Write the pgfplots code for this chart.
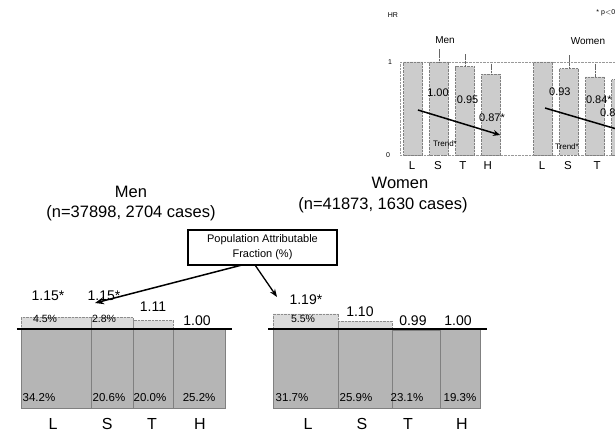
\documentclass[border=0pt]{standalone}
\usepackage{pgfplots}
\pgfplotsset{compat=1.18}
\usepackage{fontspec}
\setmainfont{Liberation Sans}
\usetikzlibrary{arrows.meta}
\newcommand{\fs}[1]{\fontsize{#1}{#1}\selectfont}
\definecolor{barc}{gray}{0.71}
\definecolor{exc}{gray}{0.86}
\definecolor{insc}{gray}{0.80}
\begin{document}
\begin{tikzpicture}[x=1pt,y=1pt]
\useasboundingbox (0pt,0pt) rectangle (615pt,-433pt);

% ---------- Men main ----------
\begin{axis}[at={(21pt,-408pt)}, anchor=south west, scale only axis, width=204pt, height=79pt,
  xmin=0, xmax=100, ymin=0, ymax=1, hide axis, clip=false]
\addplot[ybar interval, fill=exc, draw=black!45, densely dotted] coordinates {(0,1.15)(34.2,1.15)(54.8,1.11)(74.8,1.00)(100,1.00)};
\addplot[ybar interval, fill=barc, draw=black!50] coordinates {(0,1)(34.2,1)(54.8,1)(74.8,1)(100,1)};
\addplot[black, line width=1.6pt] coordinates {(-2,1)(103.4,1)};
\node[font=\fs{14}] at (axis cs:13.2,1.42) {1.15*};
\node[font=\fs{14}] at (axis cs:40.7,1.42) {1.15*};
\node[font=\fs{14}] at (axis cs:64.7,1.28) {1.11};
\node[font=\fs{14}] at (axis cs:86.3,1.11) {1.00};
\node[font=\fs{10.5}] at (axis cs:11.8,1.13) {4.5\%};
\node[font=\fs{10.5}] at (axis cs:40.7,1.13) {2.8\%};
\node[font=\fs{11.5}] at (axis cs:8.8,0.127) {34.2\%};
\node[font=\fs{11.5}] at (axis cs:43.1,0.127) {20.6\%};
\node[font=\fs{11.5}] at (axis cs:63.2,0.127) {20.0\%};
\node[font=\fs{11.5}] at (axis cs:87.3,0.127) {25.2\%};
\node[font=\fs{16}, anchor=base, yshift=-21.5pt, inner sep=0pt] at (axis cs:15.7,0) {L};
\node[font=\fs{16}, anchor=base, yshift=-21.5pt, inner sep=0pt] at (axis cs:42.2,0) {S};
\node[font=\fs{16}, anchor=base, yshift=-21.5pt, inner sep=0pt] at (axis cs:64.2,0) {T};
\node[font=\fs{16}, anchor=base, yshift=-21.5pt, inner sep=0pt] at (axis cs:87.7,0) {H};
\end{axis}

% ---------- Women main ----------
\begin{axis}[at={(273pt,-408pt)}, anchor=south west, scale only axis, width=207pt, height=79pt,
  xmin=0, xmax=100, ymin=0, ymax=1, hide axis, clip=false]
\addplot[ybar interval, fill=exc, draw=black!45, densely dotted] coordinates {(0,1.19)(31.7,1.10)(57.6,0.99)(80.7,1.00)(100,1.00)};
\addplot[ybar interval, fill=barc, draw=black!50] coordinates {(0,1)(31.7,1)(57.6,0.99)(80.7,1)(100,1)};
\addplot[black, line width=1.6pt] coordinates {(-2.4,1)(103.4,1)};
\node[font=\fs{14}] at (axis cs:15.9,1.37) {1.19*};
\node[font=\fs{14}] at (axis cs:42,1.22) {1.10};
\node[font=\fs{14}] at (axis cs:67.6,1.11) {0.99};
\node[font=\fs{14}] at (axis cs:89.4,1.11) {1.00};
\node[font=\fs{10.5}] at (axis cs:14.5,1.13) {5.5\%};
\node[font=\fs{11.5}] at (axis cs:9.2,0.127) {31.7\%};
\node[font=\fs{11.5}] at (axis cs:40.1,0.127) {25.9\%};
\node[font=\fs{11.5}] at (axis cs:64.7,0.127) {23.1\%};
\node[font=\fs{11.5}] at (axis cs:90.3,0.127) {19.3\%};
\node[font=\fs{16}, anchor=base, yshift=-21.5pt, inner sep=0pt] at (axis cs:16.9,0) {L};
\node[font=\fs{16}, anchor=base, yshift=-21.5pt, inner sep=0pt] at (axis cs:43.0,0) {S};
\node[font=\fs{16}, anchor=base, yshift=-21.5pt, inner sep=0pt] at (axis cs:65.2,0) {T};
\node[font=\fs{16}, anchor=base, yshift=-21.5pt, inner sep=0pt] at (axis cs:91.3,0) {H};
\end{axis}

% ---------- Inset ----------
\begin{axis}[at={(400pt,-155pt)}, anchor=south west, scale only axis, width=234pt, height=93pt,
  xmin=-0.5, xmax=8.5, ymin=0, ymax=1, hide axis, clip=false]
\addplot[black!40, densely dotted] coordinates {(-0.5,1)(9,1)};
\addplot[black!40, densely dotted] coordinates {(-0.5,0)(9,0)};
\addplot[black!40, densely dotted] coordinates {(-0.5,0)(-0.5,1)};
\addplot[ybar, bar width=19pt, bar shift=0pt, fill=insc, draw=black!50, densely dotted] coordinates {(0,1.0)(5,1.0)};
\addplot[ybar, bar width=19pt, bar shift=0pt, fill=insc, draw=black!50, densely dotted,
  error bars/.cd, y dir=plus, y explicit,
  error bar style={black!60, densely dotted, line width=0.8pt},
  error mark options={black!60, solid, mark size=3pt}]
  coordinates {(1,1.00) +- (0,0.11) (2,0.95) +- (0,0.10) (3,0.87) +- (0,0.08)
               (6,0.93) +- (0,0.11) (7,0.84) +- (0,0.11) (8,0.81) +- (0,0.10)};
\addplot[black, line width=1.5pt, -{Stealth[length=7pt,width=6pt]}] coordinates {(0.19,0.484)(3.35,0.215)};
\addplot[black, line width=1.5pt] coordinates {(5.08,0.505)(8.35,0.237)};
\node[font=\fs{11}] at (axis cs:0.96,0.67) {1.00};
\node[font=\fs{11}] at (axis cs:2.1,0.59) {0.95};
\node[font=\fs{11}] at (axis cs:3.04,0.40) {0.87*};
\node[font=\fs{11}] at (axis cs:5.65,0.68) {0.93};
\node[font=\fs{11}] at (axis cs:7.15,0.59) {0.84*};
\node[font=\fs{11}, anchor=west, inner sep=0pt] at (axis cs:7.19,0.46) {0.81*};
\node[font=\fs{8}] at (axis cs:1.23,0.12) {Trend*};
\node[font=\fs{8}] at (axis cs:5.92,0.09) {Trend*};
\node[font=\fs{10}] at (axis cs:1.23,1.24) {Men};
\node[font=\fs{10}] at (axis cs:6.73,1.22) {Women};
\node[font=\fs{7}] at (axis cs:-0.77,1.5) {HR};
\node[font=\fs{7}] at (axis cs:-0.88,1.0) {1};
\node[font=\fs{7}] at (axis cs:-0.96,0) {0};
\node[font=\fs{7}, anchor=west] at (axis cs:6.92,1.53) {* p$<$0.05};
\node[font=\fs{11.5}] at (axis cs:-0.04,-0.11) {L};
\node[font=\fs{11.5}] at (axis cs:0.96,-0.11) {S};
\node[font=\fs{11.5}] at (axis cs:1.92,-0.11) {T};
\node[font=\fs{11.5}] at (axis cs:2.88,-0.11) {H};
\node[font=\fs{11.5}] at (axis cs:4.96,-0.11) {L};
\node[font=\fs{11.5}] at (axis cs:5.96,-0.11) {S};
\node[font=\fs{11.5}] at (axis cs:7.08,-0.11) {T};
\node[font=\fs{11.5}] at (axis cs:8.05,-0.11) {H};
\end{axis}

% ---------- Titles and PAF box ----------
\node[font=\fs{16.5}] at (131pt,-192pt) {Men};
\node[font=\fs{16.5}] at (131pt,-213pt) {(n=37898, 2704 cases)};
\node[font=\fs{16.5}] at (400pt,-183pt) {Women};
\node[font=\fs{16.5}] at (383pt,-205pt) {(n=41873, 1630 cases)};
\node[draw, line width=1.2pt, minimum width=149pt, minimum height=35pt, align=center,
  font=\fontsize{11}{15}\selectfont, inner sep=1pt] at (262.5pt,-247.5pt) {Population Attributable\\Fraction (\%)};
\draw[-{Stealth[length=9pt,width=7pt]}, line width=1.5pt] (242pt,-265pt) -- (95pt,-303pt);
\draw[-{Stealth[length=8pt,width=6pt]}, line width=1.3pt] (255pt,-265pt) -- (277pt,-297pt);
\end{tikzpicture}
\end{document}
